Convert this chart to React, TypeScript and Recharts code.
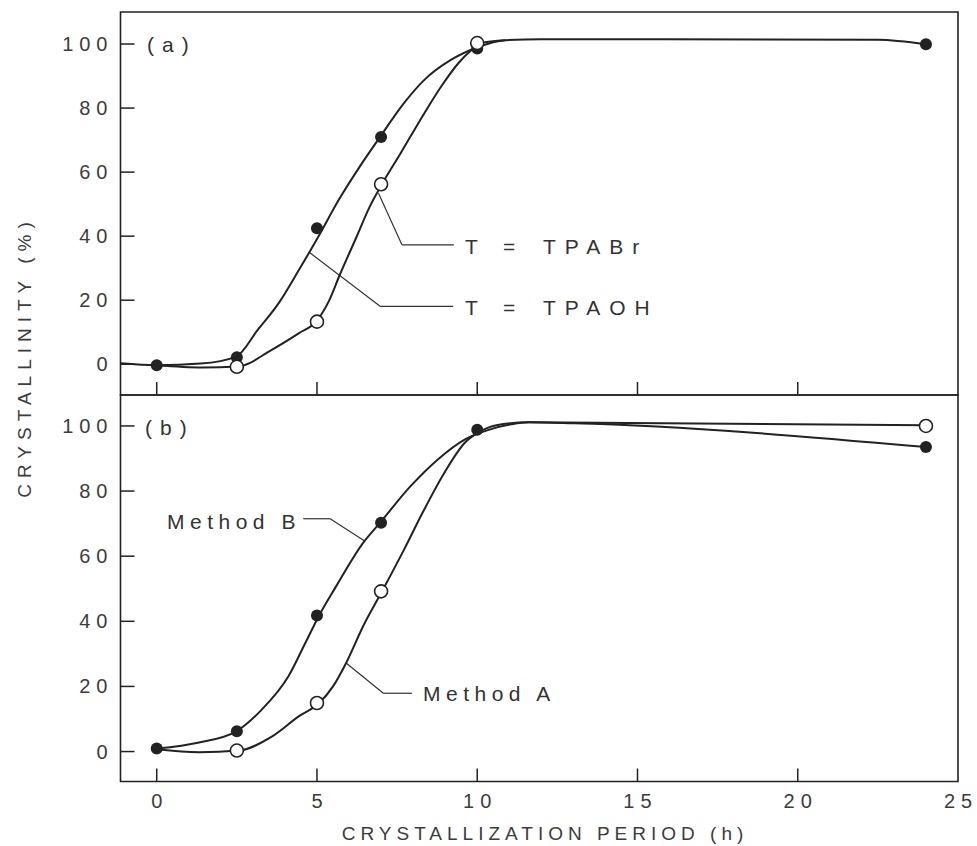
import React from 'react'
import { ComposedChart, Line, Scatter, XAxis, YAxis, ReferenceArea, ReferenceLine } from 'recharts'

const INK = '#222'
const TEXT = '#3c3c3c'
const FONT = '"Liberation Sans", Arial, sans-serif'

const xTicks = [0, 5, 10, 15, 20, 25]
const yTicks = [0, 20, 40, 60, 80, 100]
const xDomain: [number, number] = [-1.13, 25]
const yDomainA: [number, number] = [-9.6, 110]
const yDomainB: [number, number] = [-9.2, 109.5]

// (a) measured points
const tpaohPoints: [number, number][] = [[0, -0.3], [2.5, 2.2], [5, 42.5], [7, 71], [10, 98.6], [24, 99.9]]
const tpabrPoints: [number, number][] = [[2.5, -0.8], [5, 13.3], [7, 56.2], [10, 100.3]]
// (a) drawn curves
const tpaohCurve: [number, number][] = [
  [-1.13, 0.3], [0, -0.3], [1.37, 0.2], [2.48, 2.4], [3.15, 10.7], [3.8, 19], [4.44, 29.5],
  [5.05, 40], [5.69, 51.5], [6.34, 61.8], [6.97, 71], [7.72, 81.6], [8.35, 88.8], [9.19, 95.1],
  [9.99, 98.9], [10.87, 101.2], [12, 101.5], [22.5, 101.3], [24, 99.9],
]
const tpabrCurve: [number, number][] = [
  [0, -0.3], [1.42, -1], [2.53, -0.7], [3.59, 4.5], [4.44, 9.7], [4.97, 13.3], [5.39, 20.1],
  [5.69, 27.4], [6.24, 39.9], [6.65, 49.3], [7.03, 56.3], [7.61, 65.9], [8.35, 78.4], [8.88, 86.8],
  [9.41, 94], [9.83, 98.2], [10.1, 100.3], [10.87, 101.2],
]

// (b) measured points
const methodBPoints: [number, number][] = [[0, 0.9], [2.5, 6.2], [5, 41.8], [7, 70.3], [10, 98.8], [24, 93.5]]
const methodAPoints: [number, number][] = [[2.5, 0.3], [5, 14.9], [7, 49.2], [24, 100]]
// (b) drawn curves
const methodBCurve: [number, number][] = [
  [0, 0.9], [1.32, 2.8], [2.48, 6.2], [3.27, 12.8], [4.11, 23.1], [4.64, 33.4], [5.05, 41.5],
  [5.6, 50.8], [6.44, 64.1], [6.97, 70.3], [7.92, 81.5], [8.78, 89.8], [9.62, 95.9], [10.36, 98.8],
  [11.07, 100.5], [11.6, 101.1], [13, 100.8], [24, 93.5],
]
const methodACurve: [number, number][] = [
  [0, 0.7], [1.32, -0.2], [2.55, 0.3], [3.59, 4.6], [4.43, 10.8], [5.07, 14.9], [5.5, 20],
  [5.91, 27.2], [6.44, 38.5], [7.03, 49.2], [7.72, 62.1], [8.35, 74.4], [8.98, 85.7], [9.62, 94.9],
  [10.04, 98], [10.6, 100.2], [11.6, 101.1], [24, 100.2],
]

const toXY = (pts: [number, number][]) => pts.map(([x, y]) => ({ x, y }))

const FilledDot = (p: any) => <circle cx={p.cx} cy={p.cy} r={6} fill={INK} />
const OpenDot = (p: any) => (
  <circle cx={p.cx} cy={p.cy} r={6.5} fill="#fff" stroke={INK} strokeWidth={1.6} />
)

const makeXTick = (showLabel: boolean) => (props: any) => {
  const { x, y, payload } = props
  return (
    <g>
      {payload.value < 25 && <line x1={x} x2={x} y1={y} y2={y - 13} stroke={INK} strokeWidth={1.5} />}
      {showLabel && (
        <text x={x + 3} y={y + 19} textAnchor="middle" dominantBaseline="central"
          fontFamily={FONT} fontSize={20} letterSpacing={6} fill={TEXT}>
          {payload.value}
        </text>
      )}
    </g>
  )
}

const YTick = (props: any) => {
  const { x, y, payload } = props
  return (
    <g>
      <line x1={x} x2={x + 14} y1={y} y2={y} stroke={INK} strokeWidth={1.5} />
      <text x={x - 7} y={y} textAnchor="end" dominantBaseline="central"
        fontFamily={FONT} fontSize={20} letterSpacing={6} fill={TEXT}>
        {payload.value}
      </text>
    </g>
  )
}

type Series = { curve: [number, number][]; points: [number, number][]; open: boolean }
type Leader = { x1: number; y1: number; x2: number; y2: number }

function Panel(props: {
  marginTop: number
  marginBottom: number
  xAxisHeight: number
  yDomain: [number, number]
  showXLabels: boolean
  series: Series[]
  leaders: Leader[]
}) {
  const { marginTop, marginBottom, xAxisHeight, yDomain, showXLabels, series, leaders } = props
  return (
    <div style={{ position: 'absolute', left: 0, top: 0 }}>
      <ComposedChart width={977} height={846}
        margin={{ top: marginTop, right: 19, bottom: marginBottom, left: 0 }}>
        <XAxis type="number" dataKey="x" domain={xDomain} ticks={xTicks} allowDataOverflow
          height={xAxisHeight} axisLine={false} tickLine={false} tickSize={0} tickMargin={0}
          tick={makeXTick(showXLabels)} interval={0} />
        <YAxis type="number" dataKey="y" domain={yDomain} ticks={yTicks} allowDataOverflow
          width={120.5} axisLine={false} tickLine={false} tickSize={0} tickMargin={0}
          tick={YTick} interval={0} />
        <ReferenceArea x1={xDomain[0]} x2={xDomain[1]} y1={yDomain[0]} y2={yDomain[1]}
          fill="none" fillOpacity={0} stroke={INK} strokeWidth={1.6} ifOverflow="visible" />
        {leaders.map((l, i) => (
          <ReferenceLine key={`l${i}`} segment={[{ x: l.x1, y: l.y1 }, { x: l.x2, y: l.y2 }]}
            stroke="#333" strokeWidth={1.2} ifOverflow="visible" />
        ))}
        {series.map((s, i) => (
          <Line key={`c${i}`} data={toXY(s.curve)} dataKey="y" type="monotone" dot={false}
            activeDot={false} stroke={INK} strokeWidth={2} isAnimationActive={false} />
        ))}
        {series.map((s, i) => (
          <Scatter key={`p${i}`} data={toXY(s.points)} dataKey="y"
            shape={s.open ? OpenDot : FilledDot} isAnimationActive={false} />
        ))}
      </ComposedChart>
    </div>
  )
}

// leader lines in data units
const leadersA: Leader[] = [
  { x1: 6.92, y1: 53.4, x2: 7.65, y2: 37.3 },
  { x1: 7.65, y1: 37.3, x2: 9.27, y2: 37.3 },
  { x1: 4.78, y1: 34.8, x2: 6.97, y2: 18.1 },
  { x1: 6.97, y1: 18.1, x2: 9.25, y2: 18.1 },
]
const leadersB: Leader[] = [
  { x1: 4.57, y1: 71.5, x2: 5.41, y2: 71.5 },
  { x1: 5.41, y1: 71.5, x2: 6.5, y2: 64.6 },
  { x1: 5.91, y1: 27.2, x2: 7.07, y2: 17.9 },
  { x1: 7.07, y1: 17.9, x2: 7.96, y2: 17.9 },
]

const labelStyle = { fontFamily: FONT, fill: '#333' }

export default function App() {
  return (
    <div style={{ position: 'absolute', left: 0, top: 0, width: 977, height: 846, background: '#fff' }}>
      <Panel marginTop={12} marginBottom={426} xAxisHeight={25} yDomain={yDomainA} showXLabels={false}
        series={[
          { curve: tpaohCurve, points: tpaohPoints, open: false },
          { curve: tpabrCurve, points: tpabrPoints, open: true },
        ]}
        leaders={leadersA} />
      <Panel marginTop={395} marginBottom={0} xAxisHeight={64.5} yDomain={yDomainB} showXLabels
        series={[
          { curve: methodBCurve, points: methodBPoints, open: false },
          { curve: methodACurve, points: methodAPoints, open: true },
        ]}
        leaders={leadersB} />
      <svg width={977} height={846} style={{ position: 'absolute', left: 0, top: 0, pointerEvents: 'none' }}>
        <g {...labelStyle} fontSize={21} dominantBaseline="central">
          <text x={147} y={44} letterSpacing={8}>(a)</text>
          <text x={145} y={427} letterSpacing={8}>(b)</text>
          <text x={465} y={246}>T</text>
          <text x={503} y={246}>=</text>
          <text x={543} y={246} letterSpacing={9}>TPABr</text>
          <text x={465} y={307}>T</text>
          <text x={503} y={307}>=</text>
          <text x={543} y={307} letterSpacing={9}>TPAOH</text>
          <text x={167} y={521} letterSpacing={5.5}>Method B</text>
          <text x={423} y={693} letterSpacing={5.5}>Method A</text>
        </g>
        <text x={545} y={833} textAnchor="middle" dominantBaseline="central" fontFamily={FONT}
          fontSize={19} letterSpacing={5} fill={TEXT}>
          CRYSTALLIZATION PERIOD (h)
        </text>
        <text transform="translate(24,357) rotate(-90)" textAnchor="middle" dominantBaseline="central"
          fontFamily={FONT} fontSize={19} letterSpacing={6} fill={TEXT}>
          CRYSTALLINITY (%)
        </text>
      </svg>
    </div>
  )
}
